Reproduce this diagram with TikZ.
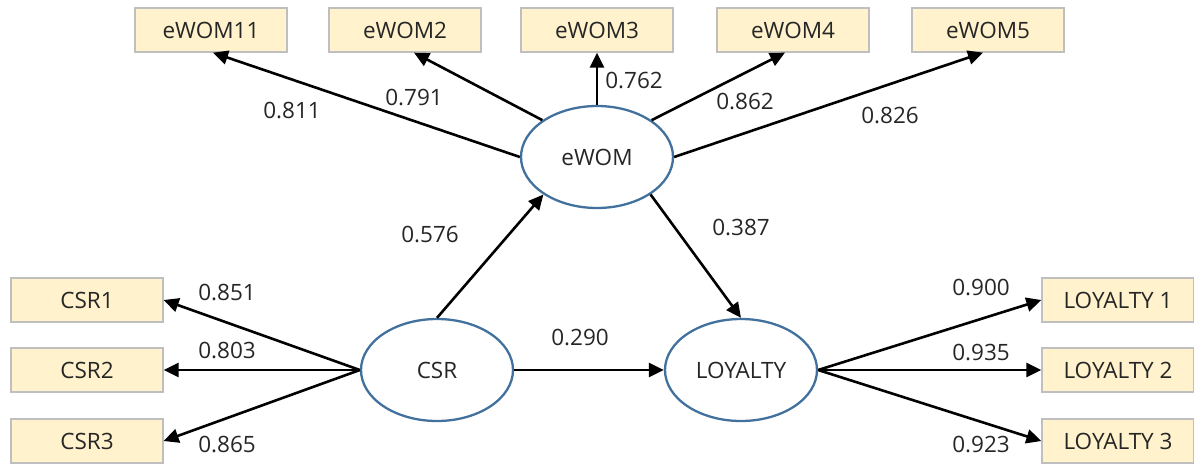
\documentclass[tikz,border=0pt]{standalone}
\usepackage{fontspec}
\setmainfont{Open Sans}
\usetikzlibrary{shapes.geometric,arrows.meta,calc}
\definecolor{boxfill}{HTML}{FFF2CC}
\definecolor{boxline}{HTML}{BFBFBF}
\definecolor{ellline}{HTML}{41719C}
\definecolor{txt}{HTML}{262626}
\begin{document}
\begin{tikzpicture}[x=1pt,y=-1pt,
  every node/.style={font=\fontsize{22.5}{26}\selectfont, text=txt},
  ind/.style={draw=boxline, line width=1.3pt, fill=boxfill, minimum width=152pt, minimum height=44pt, inner sep=0pt},
  lat/.style={draw=ellline, line width=2.3pt, fill=white, ellipse, minimum width=152pt, minimum height=102pt, inner sep=0pt},
  path/.style={draw=black, line width=2.6pt, -{Triangle[length=15pt,width=14pt]}},
  coef/.style={inner sep=0pt}
]
\useasboundingbox (0,0) rectangle (1194,464);
% indicators
\node[ind] (e11) at (211,30) {eWOM11};
\node[ind] (e2)  at (405,30) {eWOM2};
\node[ind] (e3)  at (597,30) {eWOM3};
\node[ind] (e4)  at (793,30) {eWOM4};
\node[ind] (e5)  at (988,30) {eWOM5};
\node[ind] (c1) at (87,300) {CSR1};
\node[ind] (c2) at (87,370) {CSR2};
\node[ind] (c3) at (87,441) {CSR3};
\node[ind] (l1) at (1118,300) {LOYALTY 1};
\node[ind] (l2) at (1118,370) {LOYALTY 2};
\node[ind] (l3) at (1118,441) {LOYALTY 3};
% latent
\node[lat] (ewom) at (597,157) {eWOM};
\node[lat] (csr)  at (437,370) {CSR};
\node[lat] (loy)  at (741,370) {LOYALTY};
% paths
\draw[path] (ewom.180) -- ($(e11.south)+(2,0)$);
\draw[path] (ewom.146) -- ($(e2.south)+(9,0)$);
\draw[path] (ewom.north) -- (e3.south);
\draw[path] (ewom.34) -- ($(e4.south)+(-8,0)$);
\draw[path] (ewom.0) -- ($(e5.south)+(-5,0)$);
\draw[path] (csr.north) -- (ewom.215);
\draw[path] (ewom.-35) -- (loy.north);
\draw[path] (csr.east) -- (loy.west);
\draw[path] (csr.west) -- (c1.east);
\draw[path] (csr.west) -- (c2.east);
\draw[path] (csr.west) -- (c3.east);
\draw[path] (loy.east) -- (l1.west);
\draw[path] (loy.east) -- (l2.west);
\draw[path] (loy.east) -- (l3.west);
% coefficients
\node[coef] (k1) at (292,110) {0.811};
\node[coef] (k2) at (414,97) {0.791};
\node[coef] (k3) at (634,80) {0.762};
\node[coef] (k4) at (745,101) {0.862};
\node[coef] (k5) at (890,115) {0.826};
\node[coef] (k6) at (430,234) {0.576};
\node[coef] (k7) at (741,227) {0.387};
\node[coef] (k8) at (580,337) {0.290};
\node[coef] (k9) at (227,292) {0.851};
\node[coef] (k10) at (227,350) {0.803};
\node[coef] (k11) at (227,444) {0.865};
\node[coef] (k12) at (981,287) {0.900};
\node[coef] (k13) at (981,352) {0.935};
\node[coef] (k14) at (981,444) {0.923};
\end{tikzpicture}
\end{document}
